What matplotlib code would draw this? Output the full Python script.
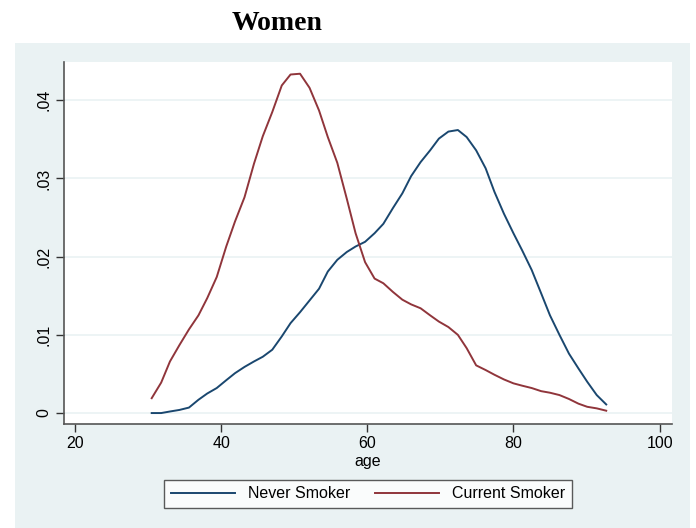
import matplotlib
matplotlib.use("Agg")
import matplotlib.pyplot as plt

ages = [30.5, 31.8, 33.0, 34.3, 35.6, 36.9, 38.1, 39.4, 40.7, 41.9,
        43.2, 44.5, 45.7, 47.0, 48.3, 49.5, 50.8, 52.1, 53.4, 54.6,
        55.9, 57.2, 58.4, 59.7, 61.0, 62.2, 63.5, 64.8, 66.0, 67.3,
        68.6, 69.8, 71.1, 72.4, 73.6, 74.9, 76.2, 77.4, 78.7, 80.0,
        81.2, 82.5, 83.8, 85.0, 86.3, 87.6, 88.9, 90.1, 91.4, 92.7]

never_smoker = [0.0000, 0.0000, 0.0002, 0.0004, 0.0007, 0.0017, 0.0025, 0.0032, 0.0042, 0.0051,
                0.0059, 0.0066, 0.0072, 0.0081, 0.0098, 0.0115, 0.0129, 0.0144, 0.0159, 0.0181,
                0.0196, 0.0206, 0.0213, 0.0219, 0.0230, 0.0242, 0.0262, 0.0281, 0.0303, 0.0321,
                0.0336, 0.0351, 0.0360, 0.0362, 0.0353, 0.0336, 0.0313, 0.0283, 0.0255, 0.0230,
                0.0208, 0.0183, 0.0153, 0.0125, 0.0100, 0.0076, 0.0057, 0.0040, 0.0023, 0.0011]

current_smoker = [0.0019, 0.0039, 0.0066, 0.0087, 0.0107, 0.0125, 0.0147, 0.0174, 0.0213, 0.0245,
                  0.0276, 0.0319, 0.0354, 0.0385, 0.0419, 0.0433, 0.0434, 0.0416, 0.0387, 0.0353,
                  0.0320, 0.0274, 0.0230, 0.0193, 0.0172, 0.0166, 0.0155, 0.0145, 0.0139, 0.0134,
                  0.0125, 0.0117, 0.0110, 0.0100, 0.0083, 0.0061, 0.0055, 0.0049, 0.0043, 0.0038,
                  0.0035, 0.0032, 0.0028, 0.0026, 0.0023, 0.0018, 0.0012, 0.0008, 0.0006, 0.0003]

x_ticks = [20, 40, 60, 80, 100]
y_ticks = [0, 0.01, 0.02, 0.03, 0.04]
y_tick_labels = ["0", ".01", ".02", ".03", ".04"]
series_labels = ["Never Smoker", "Current Smoker"]
title = "Women"
x_label = "age"

BG = "#EAF2F3"
NAVY = "#1A476F"
MAROON = "#90353B"

plt.rcParams['font.family'] = ['Liberation Sans', 'DejaVu Sans']

fig = plt.figure(figsize=(6.96, 5.28), dpi=100)
fig.patch.set_facecolor("white")

# graph region background (behind everything)
bg_ax = fig.add_axes([15 / 696, 0, (690 - 15) / 696, 1 - 43 / 528], zorder=-1)
bg_ax.set_facecolor(BG)
bg_ax.set_xticks([])
bg_ax.set_yticks([])
for s in bg_ax.spines.values():
    s.set_visible(False)

ax = fig.add_axes([64 / 696, 1 - 424 / 528, (672 - 64) / 696, (424 - 62) / 528], zorder=1)
ax.set_facecolor("white")

ax.plot(ages, never_smoker, color=NAVY, lw=1.4, label=series_labels[0])
ax.plot(ages, current_smoker, color=MAROON, lw=1.4, label=series_labels[1])

ax.set_xlim(18.5, 101.7)
ax.set_ylim(-0.0014, 0.0449)
ax.set_xticks(x_ticks)
ax.set_xticklabels([str(t) for t in x_ticks], fontsize=11.5)
ax.set_yticks(y_ticks)
ax.set_yticklabels(y_tick_labels, fontsize=11.5, rotation=90, va="center")
ax.yaxis.grid(True, color=BG, lw=1.2)
ax.set_axisbelow(True)

for s in ["top", "right"]:
    ax.spines[s].set_visible(False)
for s in ["left", "bottom"]:
    ax.spines[s].set_color("#555555")
    ax.spines[s].set_linewidth(1.2)
ax.tick_params(direction="out", length=6, width=1, color="#333333", pad=3)

ax.set_xlabel(x_label, fontsize=11.5, labelpad=2)

fig.text(277 / 696, 1 - 23 / 528, title, ha="center", va="center",
         fontsize=20, fontweight="bold", family=["Liberation Serif", "DejaVu Serif"])

leg = ax.legend(loc="center", bbox_to_anchor=(368 / 696, 1 - 494 / 528),
                bbox_transform=fig.transFigure, ncol=2, fontsize=11.5,
                frameon=True, fancybox=False, handlelength=4.0,
                columnspacing=1.6, borderpad=0.4, handletextpad=0.8)
leg.get_frame().set_edgecolor("#333333")
leg.get_frame().set_linewidth(1.0)
leg.get_frame().set_facecolor("white")

fig.savefig("out.png", dpi=100, facecolor=fig.get_facecolor())
